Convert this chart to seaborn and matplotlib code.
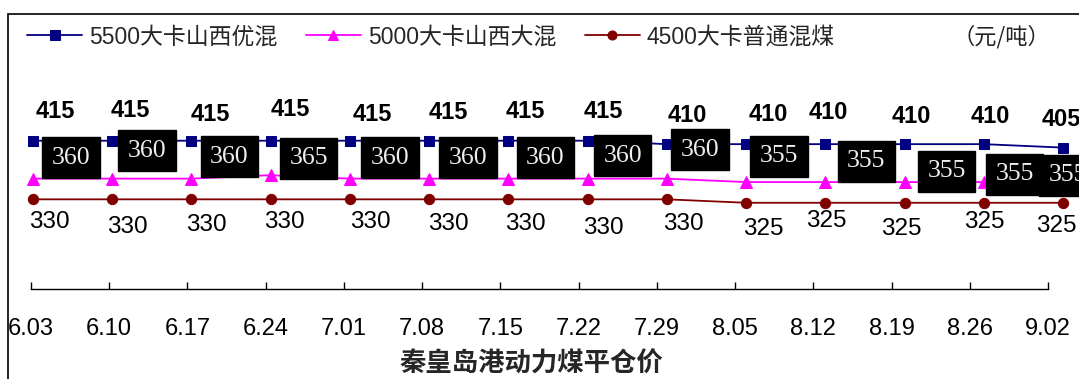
import matplotlib
matplotlib.use("Agg")
import matplotlib.pyplot as plt
import seaborn as sns
from matplotlib.patches import Rectangle

# Weekly Qinhuangdao port FOB steam-coal prices (yuan/ton)
dates = ["6.03", "6.10", "6.17", "6.24", "7.01", "7.08", "7.15",
         "7.22", "7.29", "8.05", "8.12", "8.19", "8.26", "9.02"]
price_5500 = [415, 415, 415, 415, 415, 415, 415, 415, 410, 410, 410, 410, 410, 405]
price_5000 = [360, 360, 360, 365, 360, 360, 360, 360, 360, 355, 355, 355, 355, 355]
price_4500 = [330, 330, 330, 330, 330, 330, 330, 330, 330, 325, 325, 325, 325, 325]
series_names = ["5500大卡山西优混", "5000大卡山西大混", "4500大卡普通混煤"]
unit_text = "（元/吨）"
axis_title = "秦皇岛港动力煤平仓价"

# label placement (pixel offsets from each point)
off_5500 = [(22, 29), (18, 30), (19, 26), (20, 31), (22, 26), (19, 28), (17, 29),
            (16, 29), (20, 29), (22, 30), (3, 32), (7, 28), (7, 28), (-2, 28)]
off_5000 = [(38, 21), (35, 28), (38, 22), (38, 17), (40, 21), (39, 21), (37, 21),
            (35, 23), (33, 29), (33, 26), (41, 21), (42, 11), (31, 8), (5, 7)]
off_4500 = [(16, -23), (15, -28), (15, -26), (14, -23), (20, -23), (19, -25), (17, -25),
            (16, -29), (17, -25), (17, -26), (1, -18), (-3, -26), (1, -19), (-7, -23)]

sns.set_style("white")
plt.rcParams["font.family"] = ["Liberation Sans", "Noto Sans CJK SC"]

W, H = 1079, 379
fig = plt.figure(figsize=(W / 100, H / 100), dpi=100)
fig.patch.set_facecolor("white")

# plotting area for the three price lines
ax = fig.add_axes([33 / W, (H - 289) / H, (1063 - 33) / W, (289 - 60) / H])
ax.set_xlim(0, len(dates) - 1)
ax.set_ylim(200, 532)
ax.axis("off")

x = list(range(len(dates)))
styles = [
    (price_5500, "#000080", "s", 7.2),
    (price_5000, "#FF00FF", "^", 9.0),
    (price_4500, "#800000", "o", 7.4),
]
for (vals, color, mk, ms), name in zip(styles, series_names):
    sns.lineplot(x=x, y=vals, ax=ax, color=color, marker=mk, markersize=ms,
                 markeredgecolor=color, linewidth=1.3, label=name, clip_on=False,
                 zorder=3)
ax.get_legend().remove()

for xi, v, (dx, dy) in zip(x, price_5500, off_5500):
    ax.annotate(f"{v}", (xi, v), xytext=(dx, dy), textcoords="offset pixels",
                ha="center", va="center", fontsize=17, fontweight="bold",
                color="black", annotation_clip=False, zorder=5)

for xi, v, (dx, dy) in zip(x, price_5000, off_5000):
    ax.annotate(f"{v}", (xi, v), xytext=(dx, dy), textcoords="offset pixels",
                ha="center", va="center", fontsize=18.5,
                family=["Liberation Serif", "DejaVu Serif"], color="#eeeeee",
                bbox=dict(boxstyle="square,pad=0.37", fc="black", ec="black"),
                annotation_clip=False, zorder=6)

for xi, v, (dx, dy) in zip(x, price_4500, off_4500):
    ax.annotate(f"{v}", (xi, v), xytext=(dx, dy), textcoords="offset pixels",
                ha="center", va="center", fontsize=17.5, color="black",
                annotation_clip=False, zorder=5)

# category axis with inward ticks
axc = fig.add_axes([31 / W, (H - 289) / H, (1048 - 31) / W, 0.01])
axc.set_xlim(0, len(dates) - 1)
axc.set_xticks(x)
axc.set_xticklabels(dates, fontsize=17)
axc.set_yticks([])
axc.patch.set_visible(False)
for s in ["top", "left", "right"]:
    axc.spines[s].set_visible(False)
axc.spines["bottom"].set_color("black")
axc.spines["bottom"].set_linewidth(1.0)
axc.tick_params(axis="x", direction="in", length=5, width=1.0, pad=21,
                colors="black", bottom=True)

# legend across the top
handles, labels = ax.get_legend_handles_labels()
leg = fig.legend(handles, labels, loc="center left",
                 bbox_to_anchor=(27 / W, (H - 37) / H), ncol=3, frameon=False,
                 fontsize=16.5, handlelength=2.4, handletextpad=0.3,
                 columnspacing=1.25, borderpad=0, borderaxespad=0)
for h in leg.legend_handles:
    h.set_markersize(6.5)

fig.text(1050 / W, (H - 37) / H, unit_text, ha="right", va="center",
         fontsize=16, family=["Noto Sans CJK SC", "DejaVu Sans"], color="#222222")

fig.text(531 / W, (H - 364) / H, axis_title, ha="center", va="center",
         fontsize=19, fontweight="bold", family=["Noto Sans CJK SC", "DejaVu Sans"])

# chart-area border (top and left edges visible)
fig.add_artist(Rectangle((8 / W, -0.2), 2.0, (H - 14) / H + 0.2,
                         transform=fig.transFigure, fill=False,
                         ec="black", lw=1.2, zorder=10))

fig.savefig("out.png", dpi=100, facecolor="white")
